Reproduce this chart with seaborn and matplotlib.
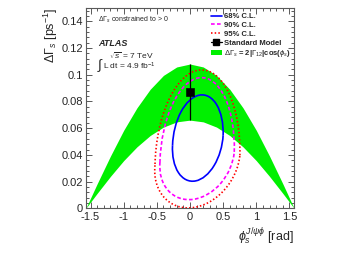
import numpy as np
import pandas as pd
import matplotlib
matplotlib.use("Agg")
import matplotlib.pyplot as plt
import seaborn as sns
from matplotlib.patches import Arc, Patch
from matplotlib.lines import Line2D
from matplotlib.transforms import Affine2D
from matplotlib.ticker import MultipleLocator, FuncFormatter

# band edges (Delta Gamma_s = 2|Gamma_12|cos(phi_s))
band_phi = [-1.571, -1.4, -1.2, -1.0, -0.8, -0.6, -0.4, -0.2, 0.0,
            0.2, 0.4, 0.6, 0.8, 1.0, 1.2, 1.4, 1.571]
band_upper = [0.0, 0.0184, 0.0391, 0.0584, 0.0752, 0.0891, 0.0995, 0.1058, 0.108,
              0.1058, 0.0995, 0.0891, 0.0752, 0.0584, 0.0391, 0.0184, 0.0]
band_lower = [0.0, 0.0112, 0.0239, 0.0357, 0.0460, 0.0545, 0.0608, 0.0647, 0.066,
              0.0647, 0.0608, 0.0545, 0.0460, 0.0357, 0.0239, 0.0112, 0.0]

# likelihood contours: extreme points (phi, dGamma)
cl_labels = ["68% C.L.", "90% C.L.", "95% C.L."]
cl_left = [(-0.263, 0.0472), (-0.453, 0.0347), (-0.528, 0.0322)]
cl_right = [(0.50, 0.0547), (0.668, 0.0422), (0.753, 0.0397)]
cl_top = [(0.14, 0.0847), (0.14, 0.0977), (0.14, 0.1035)]
cl_bottom = [(0.085, 0.0205), (0.05, 0.0067), (0.04, 0.0005)]

# Standard Model prediction
sm_phi = [-0.004]
sm_dgamma = [0.087]
sm_err = [0.021]

sns.set_theme(style="ticks")
plt.rcParams["font.family"] = ["Liberation Sans", "DejaVu Sans"]
plt.rcParams["mathtext.fontset"] = "custom"
plt.rcParams["mathtext.rm"] = "Liberation Sans"
plt.rcParams["mathtext.it"] = "Liberation Sans:italic"
plt.rcParams["mathtext.bf"] = "Liberation Sans:bold"
plt.rcParams["axes.unicode_minus"] = False

fig = plt.figure(figsize=(3.42, 2.64), dpi=100)
ax = fig.add_axes([0.251, 0.211, 0.609, 0.759])

band = pd.DataFrame({"phi": band_phi, "lo": band_lower, "hi": band_upper})
ax.fill_between(band["phi"], band["lo"], band["hi"], color="#00f000", lw=0, zorder=1)

styles = [("#0000ff", "-", 1.2), ("#ff00ff", (0, (2.2, 1.4)), 1.2), ("#ff0000", (0, (0.9, 1.3)), 1.2)]
for lft, rgt, top, bot, (col, ls, lw) in zip(cl_left, cl_right, cl_top, cl_bottom, styles):
    cx = (lft[0] + rgt[0]) / 2
    cy = (lft[1] + rgt[1]) / 2
    hw = (rgt[0] - lft[0]) / 2
    ys = np.arctan((rgt[1] - lft[1]) / (2 * hw))
    up = top[1] - cy
    down = cy - bot[1]
    # upper and lower halves drawn as arcs so the contour can be egg shaped
    for h, xs, t1, t2 in [(up, (top[0] - cx) / up, 0, 180), (down, (cx - bot[0]) / down, 180, 360)]:
        arc = Arc((0, 0), 2 * hw, 2 * h, theta1=t1, theta2=t2, edgecolor=col,
                  linestyle=ls, lw=lw, zorder=3)
        arc.set_transform(Affine2D().skew(np.arctan(xs), ys).translate(cx, cy) + ax.transData)
        ax.add_patch(arc)

sm = pd.DataFrame({"phi": sm_phi, "dg": sm_dgamma})
ax.errorbar(sm_phi, sm_dgamma, yerr=sm_err, fmt="none", ecolor="black", elinewidth=0.9, capsize=0, zorder=4)
sns.scatterplot(data=sm, x="phi", y="dg", marker="s", s=30, color="black", edgecolor="black", ax=ax, zorder=5)

ax.set_xlim(-1.571, 1.571)
ax.set_ylim(0, 0.15)
ax.xaxis.set_major_locator(MultipleLocator(0.5))
ax.xaxis.set_minor_locator(MultipleLocator(0.1))
ax.yaxis.set_major_locator(MultipleLocator(0.02))
ax.yaxis.set_minor_locator(MultipleLocator(0.004))
fmt = FuncFormatter(lambda v, p: "%g" % round(v, 3))
ax.xaxis.set_major_formatter(fmt)
ax.yaxis.set_major_formatter(fmt)
ax.tick_params(which="both", direction="in", top=True, right=True, color="0.35", labelsize=8, width=0.7)
ax.tick_params(which="major", length=4)
ax.tick_params(which="minor", length=2)
ax.tick_params(axis="x", pad=3)
ax.tick_params(axis="y", pad=2)
for sp in ax.spines.values():
    sp.set_color("0.35")
    sp.set_linewidth(0.8)

ax.set_xlabel(r"$\phi_{s}^{J/\psi\phi}$ [rad]", fontsize=9, loc="right")
ax.set_ylabel(r"$\Delta\Gamma_{s}$ [ps$^{-1}$]", fontsize=9, loc="top")
ax.yaxis.set_label_coords(-0.125, 1.0)
ax.xaxis.set_label_coords(1.0, -0.09)

ax.text(0.058, 0.94, r"$\Delta\Gamma_{s}$ constrained to > 0", transform=ax.transAxes,
        fontsize=5, va="center", ha="left")
ax.text(0.058, 0.82, "ATLAS", transform=ax.transAxes, fontsize=6.5, fontweight="bold",
        fontstyle="italic", va="center", ha="left")
ax.text(0.055, 0.71, r"$\int$", transform=ax.transAxes, fontsize=10, va="center", ha="left")
ax.text(0.11, 0.76, r"$\sqrt{s}$ = 7 TeV", transform=ax.transAxes, fontsize=6, va="center", ha="left")
ax.text(0.083, 0.707, r"L dt = 4.9 fb$^{-1}$", transform=ax.transAxes, fontsize=6, va="center", ha="left")

handles = [Line2D([], [], color=c, linestyle=s, lw=w) for c, s, w in styles]
handles.append(Line2D([], [], color="black", marker="s", markersize=4, lw=0.9))
handles.append(Patch(facecolor="#00f000", edgecolor="none"))
labels = cl_labels + ["Standard Model", r"$\Delta\Gamma_{s}$ = 2|$\Gamma_{12}$|cos($\phi_{s}$)"]
leg = ax.legend(handles, labels, loc="upper left", bbox_to_anchor=(0.6, 0.975), frameon=False,
                handlelength=1.45, handletextpad=0.3, labelspacing=0.2,
                borderpad=0, borderaxespad=0, prop={"weight": "bold", "size": 5.5})

fig.savefig("out.png", dpi=100)
plt.close(fig)
